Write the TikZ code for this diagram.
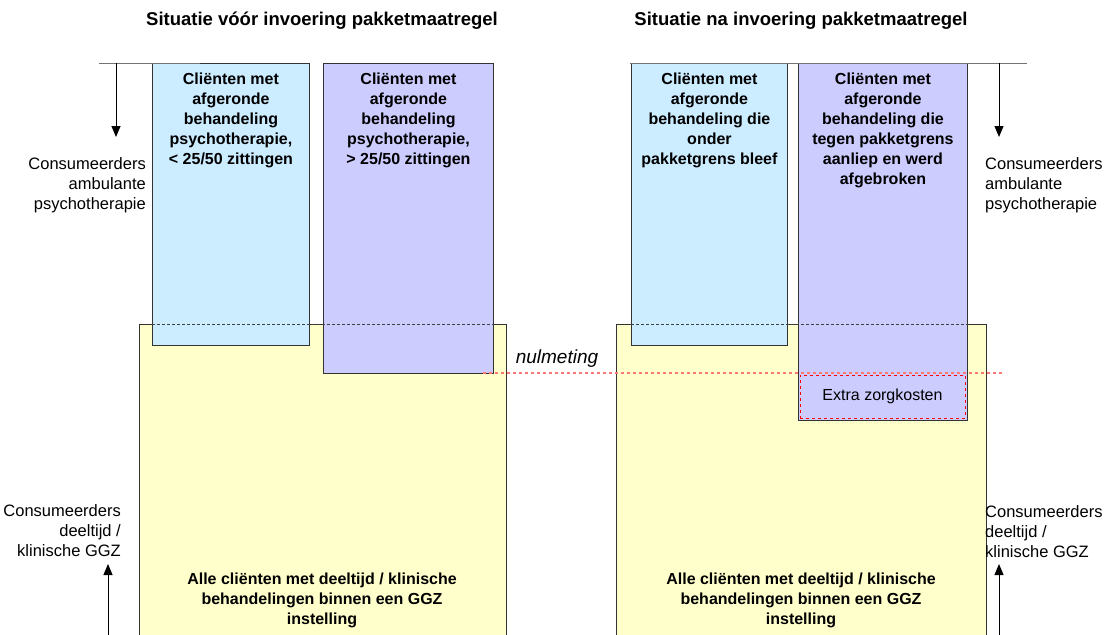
\documentclass[tikz,border=0pt]{standalone}
\usepackage{fontspec}
\setmainfont{Liberation Sans}
\usepackage{tikz}
\usetikzlibrary{positioning}
\usetikzlibrary{arrows.meta}
\definecolor{lichtblauw}{HTML}{CCECFF}
\definecolor{lila}{HTML}{CCCCFF}
\definecolor{geel}{HTML}{FFFFCC}
\definecolor{nulrood}{HTML}{FF7777}
\tikzset{kolom/.style={draw=black!80, line width=0.9pt, anchor=north west, inner sep=0pt},
  vet/.style={font=\fontsize{16}{20}\selectfont\bfseries, align=center, inner sep=0pt, anchor=north},
  gewoon/.style={font=\fontsize{16.5}{20}\selectfont, inner sep=0pt},
  titel/.style={font=\fontsize{18.5}{22}\selectfont\bfseries, inner sep=0pt, anchor=base},
  pijl/.style={line width=1pt, -{Triangle[length=11pt,width=9pt]}},
  streep/.style={black!75, line width=0.8pt, dash pattern=on 3pt off 2pt}}

\begin{document}
\begin{tikzpicture}[x=1pt,y=-1pt]
  \useasboundingbox (0,0) rectangle (1115,634);
  \clip (0,0) rectangle (1115,634);
  % titels
  \node[titel] (t1) at (322,26) {Situatie vóór invoering pakketmaatregel};
  \node[titel] (t2) at (801,26) {Situatie na invoering pakketmaatregel};
  % gele vlakken en kolommen
  \foreach \x/\w/\naam in {139/367/gl, 616/370/gr}{
    \node[kolom, fill=geel, minimum width=\w, minimum height=330] (\naam) at (\x,324) {};
  }
  \foreach \x/\w/\h/\kleur/\naam in {
    152/157/282/lichtblauw/bl,
    323/170/310/lila/pl,
    631/156/282/lichtblauw/br,
    798/169/357/lila/pr%
  }{
    \node[kolom, fill=\kleur, minimum width=\w, minimum height=\h] (\naam) at (\x,63) {};
  }
  \draw[streep] (gl.north -| bl.west) -- (gl.north -| pl.east);
  \draw[streep] (gr.north -| br.west) -- (gr.north -| pr.east);
  % nulmeting
  \coordinate (n1) at (483,373);
  \coordinate (n2) at (1002,373);
  \draw[nulrood, line width=1.2pt, dash pattern=on 3pt off 3pt] (n1) -- (n2);
  \node[font=\fontsize{19}{22}\selectfont\itshape, inner sep=0pt, anchor=base] (nul) at (557,363) {nulmeting};
  \node[draw=red, dashed, line width=0.8pt, minimum width=165, minimum height=43, inner sep=0pt,
    gewoon, font=\fontsize{16}{20}\selectfont] (extra) at (882.5,396.5) {Extra zorgkosten};
  % teksten in de kolommen
  \node[vet, below=10pt of bl.north] (tbl) {Cliënten met\\afgeronde\\behandeling\\psychotherapie,\\< 25/50 zittingen};
  \node[vet, below=10pt of pl.north] (tpl) {Cliënten met\\afgeronde\\behandeling\\psychotherapie,\\> 25/50 zittingen};
  \node[vet, below=10pt of br.north] (tbr) {Cliënten met\\afgeronde\\behandeling die\\onder\\pakketgrens bleef};
  \node[vet, below=10pt of pr.north] (tpr) {Cliënten met\\afgeronde\\behandeling die\\tegen pakketgrens\\aanliep en werd\\afgebroken};
  \node[vet] (tgl) at (322,573) {Alle cliënten met deeltijd / klinische\\behandelingen binnen een GGZ\\instelling};
  \node[vet] (tgr) at (801,573) {Alle cliënten met deeltijd / klinische\\behandelingen binnen een GGZ\\instelling};
  % labels aan de zijkant
  \node[gewoon, align=right, anchor=north east] (la1) at (146,157) {Consumeerders\\ambulante\\psychotherapie};
  \node[gewoon, align=right, anchor=north east] (la2) at (121,504) {Consumeerders\\deeltijd /\\klinische GGZ};
  \node[gewoon, align=left, anchor=north west] (ra1) at (985,157) {Consumeerders\\ambulante\\psychotherapie};
  \node[gewoon, align=left, anchor=north west] (ra2) at (985,505) {Consumeerders\\deeltijd /\\klinische GGZ};
  % lijnen en pijlen
  \coordinate (l1) at (99,63);
  \coordinate (l2) at (200,63);
  \coordinate (r1) at (630,63);
  \coordinate (r2) at (1027,63);
  \draw[black!55, line width=1pt] (l1) -- (l2);
  \draw[black!55, line width=1pt] (r1) -- (r2);
  \foreach \van/\naar/\x in {63/137/116, 640/564/108, 63/137/999, 640/564/999}{
    \draw[pijl] (\x,\van) -- (\x,\naar);
  }
\end{tikzpicture}
\end{document}
